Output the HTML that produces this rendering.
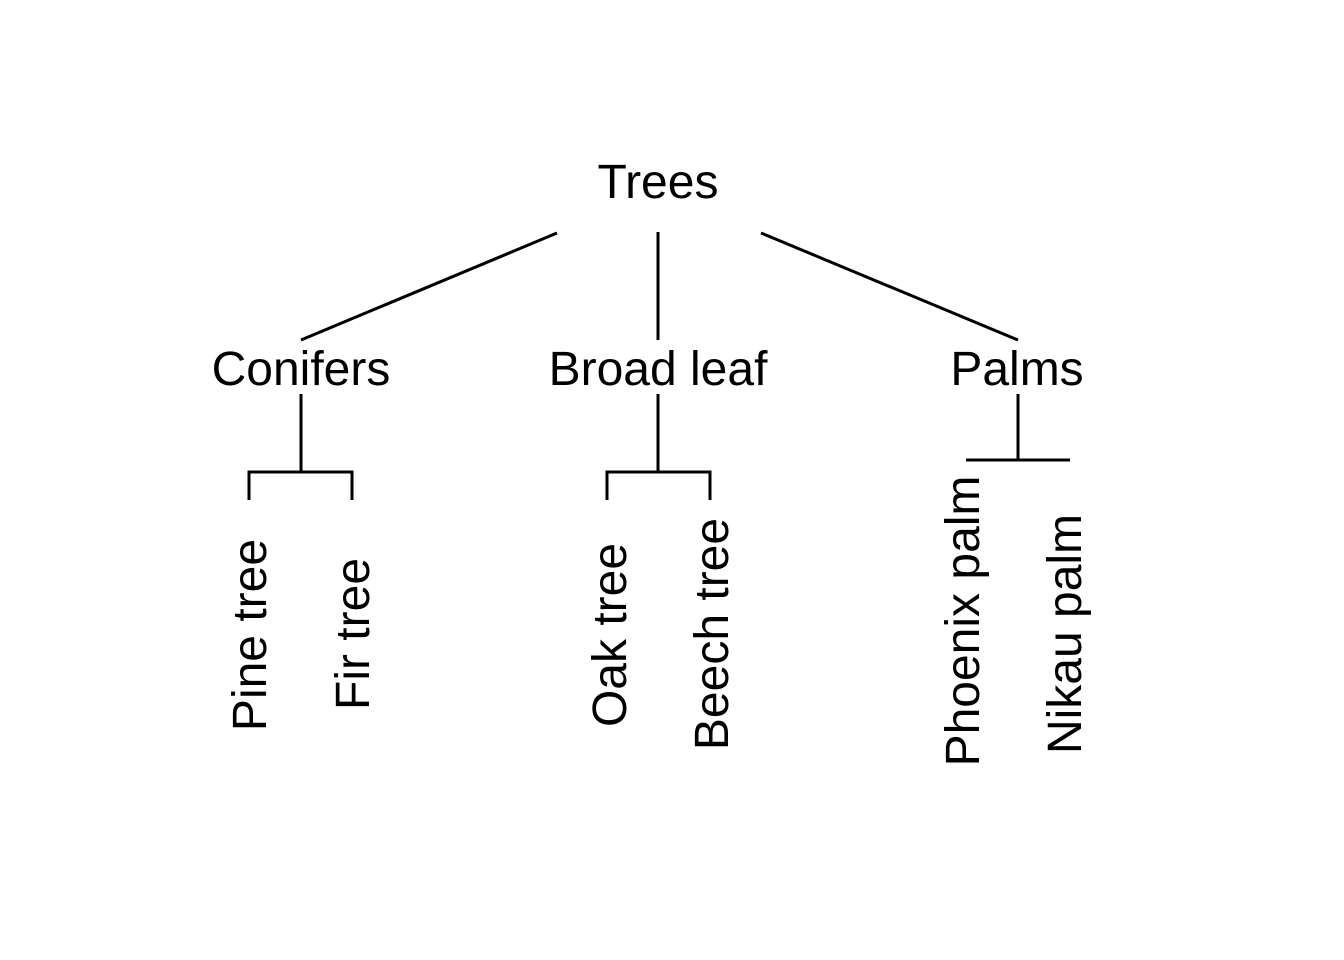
<!DOCTYPE html>
<html><head><meta charset="utf-8"><style>
html,body{margin:0;padding:0;background:#fff;}
svg{display:block;}
text{font-family:"Liberation Sans",Arial,sans-serif;font-size:48px;fill:#000;}
</style></head><body>
<svg width="1344" height="960" viewBox="0 0 1344 960" xmlns="http://www.w3.org/2000/svg">
<g stroke="#000" stroke-width="3" fill="none" stroke-linecap="butt">
<line x1="557" y1="233" x2="301" y2="340"/>
<line x1="658" y1="232" x2="658" y2="340"/>
<line x1="761" y1="233" x2="1018" y2="340"/>
<line x1="301" y1="394" x2="301" y2="472"/>
<polyline points="249,500 249,472 352,472 352,500"/>
<line x1="658" y1="394" x2="658" y2="472"/>
<polyline points="607,500 607,472 710,472 710,500"/>
<line x1="1018" y1="394" x2="1018" y2="460"/>
<line x1="966" y1="460" x2="1070" y2="460"/>
</g>
<text x="658" y="198" text-anchor="middle">Trees</text>
<text x="301" y="385" text-anchor="middle">Conifers</text>
<text x="658" y="385" text-anchor="middle">Broad leaf</text>
<text x="1017" y="385" text-anchor="middle">Palms</text>
<text text-anchor="middle" transform="translate(266,635) rotate(-90)">Pine tree</text>
<text text-anchor="middle" transform="translate(369,634) rotate(-90)">Fir tree</text>
<text text-anchor="middle" transform="translate(626,635) rotate(-90)">Oak tree</text>
<text text-anchor="middle" transform="translate(728,634) rotate(-90)">Beech tree</text>
<text text-anchor="middle" transform="translate(979,621) rotate(-90)">Phoenix palm</text>
<text text-anchor="middle" transform="translate(1081,634) rotate(-90)">Nikau palm</text>
</svg>
</body></html>
